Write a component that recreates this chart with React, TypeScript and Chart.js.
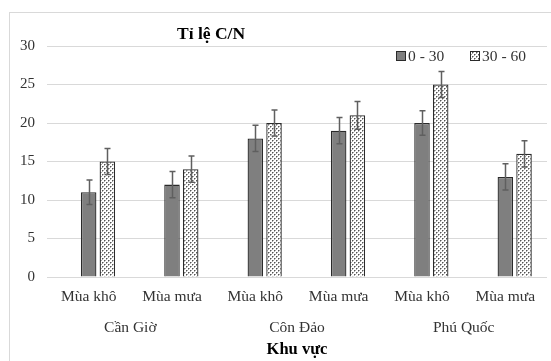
import React, { useEffect, useRef } from "react";
import { Chart, registerables } from "chart.js";

Chart.register(...registerables);

const seasons = ["Mùa khô", "Mùa mưa", "Mùa khô", "Mùa mưa", "Mùa khô", "Mùa mưa"];
const regions = ["Cần Giờ", "Côn Đảo", "Phú Quốc"];
const seriesNames = ["0 - 30", "30 - 60"];
const values0to30 = [11, 12, 18, 19, 20, 13];
const values30to60 = [15, 14, 20, 21, 25, 16];
const err0to30 = [1.6, 1.7, 1.7, 1.7, 1.6, 1.7];
const err30to60 = [1.7, 1.7, 1.7, 1.8, 1.7, 1.7];
const yTicks = [0, 5, 10, 15, 20, 25, 30];
const chartTitle = "Tỉ lệ C/N";
const xTitle = "Khu vực";

const FONT = "'Liberation Serif', 'Times New Roman', serif";
const GRAY = "#7f7f7f";
const EDGE = "#2a2a2a";
const TEXT = "#333333";

function makePattern(): CanvasPattern | string {
  const c = document.createElement("canvas");
  c.width = 4;
  c.height = 4;
  const g = c.getContext("2d");
  if (!g) return "#fff";
  g.fillStyle = "#ffffff";
  g.fillRect(0, 0, 4, 4);
  g.fillStyle = "#555555";
  g.fillRect(0, 0, 1, 1);
  g.fillRect(2, 2, 1, 1);
  g.fillStyle = "#a8a8a8";
  g.fillRect(1, 0, 1, 1);
  g.fillRect(0, 1, 1, 1);
  g.fillRect(3, 2, 1, 1);
  g.fillRect(2, 3, 1, 1);
  const p = g.createPattern(c, "repeat");
  return p || "#fff";
}

export default function App() {
  const ref = useRef<HTMLCanvasElement>(null);

  useEffect(() => {
    if (!ref.current) return;
    const pattern = makePattern();
    const errs = [null, err0to30, err30to60];

    const errorBars = {
      id: "errorBars",
      afterDatasetsDraw(chart: any) {
        const ctx = chart.ctx;
        const y = chart.scales.y;
        ctx.save();
        ctx.strokeStyle = "#5f5f5f";
        ctx.lineWidth = 1.5;
        [1, 2].forEach((di) => {
          const meta = chart.getDatasetMeta(di);
          const data = chart.data.datasets[di].data as number[];
          const e = errs[di] as number[];
          meta.data.forEach((el: any, i: number) => {
            const v = data[i];
            const top = y.getPixelForValue(v + e[i]);
            const bot = y.getPixelForValue(v - e[i]);
            const x = Math.round(el.x) + 0.5;
            ctx.beginPath();
            ctx.moveTo(x, top);
            ctx.lineTo(x, bot);
            ctx.moveTo(x - 3, top);
            ctx.lineTo(x + 3, top);
            ctx.moveTo(x - 3, bot);
            ctx.lineTo(x + 3, bot);
            ctx.stroke();
          });
        });
        ctx.restore();
      },
    };

    const overlay = {
      id: "overlay",
      afterDraw(chart: any) {
        const ctx = chart.ctx;
        ctx.save();
        ctx.fillStyle = "#000";
        ctx.font = `bold 17.5px ${FONT}`;
        ctx.textAlign = "left";
        ctx.textBaseline = "middle";
        ctx.fillText(chartTitle, 177, 34);
        ctx.font = `15.5px ${FONT}`;
        const items = [
          { x: 396, fill: GRAY as any, label: seriesNames[0] },
          { x: 470, fill: pattern as any, label: seriesNames[1] },
        ];
        items.forEach((it) => {
          ctx.fillStyle = it.fill;
          ctx.fillRect(it.x, 51, 10, 10);
          ctx.strokeStyle = EDGE;
          ctx.lineWidth = 1;
          ctx.strokeRect(it.x + 0.5, 51.5, 9, 9);
          ctx.fillStyle = TEXT;
          ctx.fillText(it.label, it.x + 12, 57);
        });
        ctx.restore();
      },
    };

    const chart = new Chart(ref.current, {
      type: "bar",
      data: {
        labels: seasons,
        datasets: [
          {
            label: "",
            data: seasons.map(() => null),
            backgroundColor: "transparent",
          },
          {
            label: seriesNames[0],
            data: values0to30,
            backgroundColor: GRAY,
            borderColor: EDGE,
            borderWidth: 1.3,
          },
          {
            label: seriesNames[1],
            data: values30to60,
            backgroundColor: pattern as any,
            borderColor: EDGE,
            borderWidth: 1.3,
          },
        ],
      },
      options: {
        animation: false,
        responsive: false,
        maintainAspectRatio: false,
        events: [],
        datasets: { bar: { categoryPercentage: 0.673, barPercentage: 0.83 } },
        layout: { padding: { top: 46, left: 0, right: 4, bottom: 1 } },
        plugins: {
          legend: { display: false },
          title: { display: false },
          tooltip: { enabled: false },
        },
        scales: {
          x: {
            type: "category",
            position: "bottom",
            offset: true,
            grid: { display: false, drawTicks: false },
            border: { display: false },
            ticks: {
              padding: 11,
              color: TEXT,
              font: { family: FONT, size: 15.5 },
              maxRotation: 0,
              autoSkip: false,
            },
            afterFit(s: any) {
              s.height = 37;
            },
          },
          x2: {
            type: "category",
            position: "bottom",
            labels: regions,
            offset: true,
            grid: { display: false, drawTicks: false },
            border: { display: false },
            ticks: {
              padding: 5,
              color: TEXT,
              font: { family: FONT, size: 15.5 },
              maxRotation: 0,
              autoSkip: false,
            },
            title: {
              display: true,
              text: xTitle,
              color: "#000",
              font: { family: FONT, size: 16.5, weight: "bold" },
              padding: 0,
            },
            afterFit(s: any) {
              s.height = 46;
            },
          },
          y: {
            min: 0,
            max: 30,
            afterBuildTicks(s: any) {
              s.ticks = yTicks.map((v) => ({ value: v }));
            },
            grid: { color: "#d9d9d9", lineWidth: 1, drawTicks: false },
            border: { display: false },
            ticks: {
              padding: 12,
              color: TEXT,
              font: { family: FONT, size: 15 },
            },
            afterFit(s: any) {
              s.width = 47;
            },
          },
        },
      },
      plugins: [errorBars, overlay],
    });
    return () => chart.destroy();
  }, []);

  return (
    <div
      style={{
        position: "fixed",
        left: 0,
        top: 0,
        width: 551,
        height: 361,
        overflow: "hidden",
        background: "#fff",
      }}
    >
      <div
        style={{
          position: "absolute",
          left: 9,
          top: 12,
          width: 600,
          height: 400,
          border: "1px solid #d9d9d9",
        }}
      />
      <canvas
        ref={ref}
        width={551}
        height={361}
        style={{ position: "absolute", left: 0, top: 0, width: 551, height: 361 }}
      />
    </div>
  );
}
